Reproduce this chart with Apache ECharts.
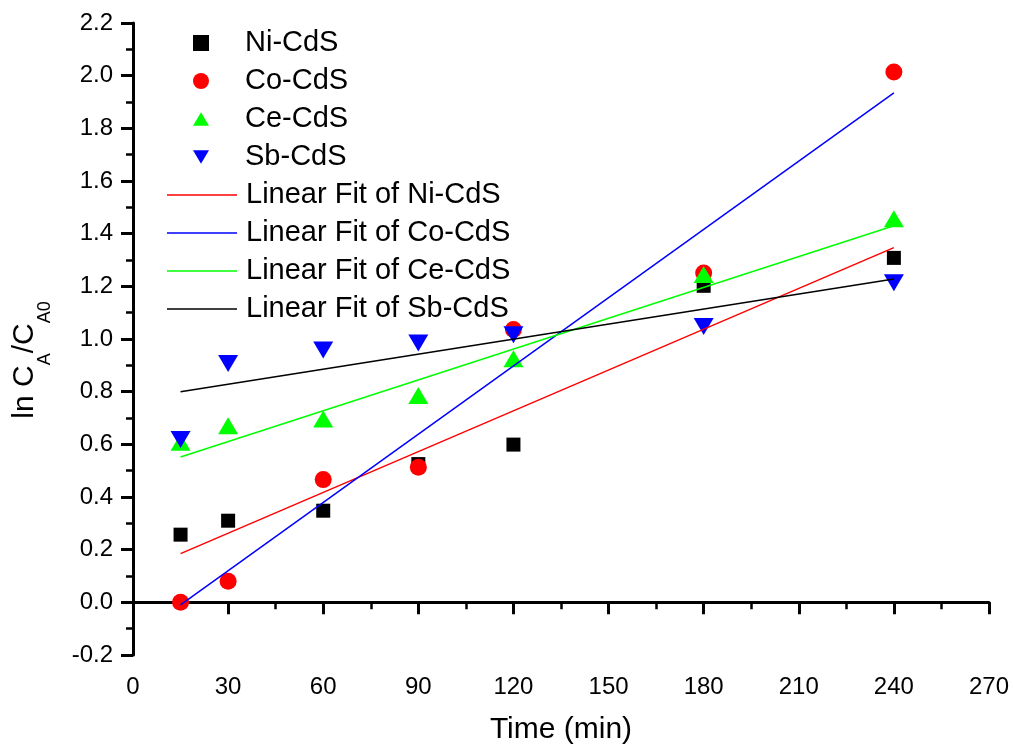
<!DOCTYPE html>
<html lang="en">
<head>
    <meta http-equiv="Content-Type" content="text/html; charset=UTF-8">
    <title>ln CA/CA0 vs Time</title>
    <script type="text/javascript" src="https://cdn.jsdelivr.net/npm/echarts@6/dist/echarts.min.js"></script>
</head>
<body style="margin:0; width:1013px; height:751px; background:#fff">

<div id="main" style="width:1013px; height:751px"></div>

<script type="text/javascript">
    // measured points (time in min, ln CA/CA0)
    var niCdS = [[15, 0.257], [30, 0.31], [60, 0.348], [90, 0.525], [120, 0.599], [180, 1.202], [240, 1.308]];
    var coCdS = [[15, 0.0], [30, 0.08], [60, 0.466], [90, 0.513], [120, 1.036], [180, 1.251], [240, 2.014]];
    var ceCdS = [[15, 0.608], [30, 0.671], [60, 0.696], [90, 0.785], [120, 0.925], [180, 1.245], [240, 1.457]];
    var sbCdS = [[15, 0.618], [30, 0.907], [60, 0.958], [90, 0.985], [120, 1.016], [180, 1.047], [240, 1.214]];

    // linear fit end points
    var fitNi = [[15, 0.185], [240, 1.347]];
    var fitCo = [[15, -0.01], [240, 1.935]];
    var fitCe = [[15, 0.552], [240, 1.43]];
    var fitSb = [[15, 0.80], [240, 1.228]];

    var font = 'Liberation Sans, Arial, sans-serif';
    var downTriangle = 'path://M0,0 L20,0 L10,17 Z';
    var lineIcon = 'path://M0,0 L70,0 L70,1.5 L0,1.5 Z';

    var myChart = echarts.init(document.getElementById('main'));

    function scatter(name, data, symbol, size, color) {
        return {
            name: name,
            type: 'scatter',
            data: data,
            symbol: symbol,
            symbolSize: size,
            itemStyle: {color: color, opacity: 1},
            z: 2
        };
    }

    function fit(name, data, color) {
        return {
            name: name,
            type: 'line',
            data: data,
            symbol: 'none',
            showSymbol: false,
            lineStyle: {color: color, width: 1.5},
            itemStyle: {color: color},
            z: 3
        };
    }

    var legendText = {fontFamily: font, fontSize: 29, color: '#000', lineHeight: 30};

    myChart.setOption({
        animation: false,
        backgroundColor: '#fff',
        grid: {left: 133, right: 24, top: 23, bottom: 96},
        legend: [{
            // markers
            orient: 'vertical',
            left: 188,
            top: 23,
            itemWidth: 16,
            itemHeight: 16,
            itemGap: 8,
            textStyle: Object.assign({padding: [0, 0, 0, 31]}, legendText),
            data: [
                {name: 'Ni-CdS', icon: 'path://M0,0 L13,0 L13,13 L0,13 Z'},
                {name: 'Co-CdS', icon: 'circle'},
                {name: 'Ce-CdS', icon: 'path://M10,0 L20,17 L0,17 Z'},
                {name: 'Sb-CdS', icon: downTriangle}
            ]
        }, {
            // fit lines
            orient: 'vertical',
            left: 162,
            top: 175,
            itemWidth: 70,
            itemHeight: 16,
            itemGap: 8,
            textStyle: Object.assign({padding: [0, 0, 0, 4]}, legendText),
            data: [
                {name: 'Linear Fit of Ni-CdS', icon: lineIcon},
                {name: 'Linear Fit of Co-CdS', icon: lineIcon},
                {name: 'Linear Fit of Ce-CdS', icon: lineIcon},
                {name: 'Linear Fit of Sb-CdS', icon: lineIcon}
            ]
        }],
        xAxis: {
            type: 'value',
            min: 0,
            max: 270,
            interval: 30,
            name: 'Time (min)',
            nameLocation: 'middle',
            nameGap: 60,
            nameTextStyle: {fontFamily: font, fontSize: 30, color: '#000'},
            axisLine: {lineStyle: {color: '#000', width: 3}},
            axisTick: {length: 12, lineStyle: {width: 3}},
            minorTick: {show: true, splitNumber: 2, length: 7, lineStyle: {color: '#000', width: 2.5}},
            axisLabel: {fontFamily: font, fontSize: 24, color: '#000', margin: 20},
            splitLine: {show: false}
        },
        yAxis: {
            type: 'value',
            min: -0.2,
            max: 2.2,
            interval: 0.2,
            name: 'ln C{s|A}/C{s|A0}',
            nameLocation: 'middle',
            nameRotate: 90,
            nameGap: 79,
            nameTextStyle: {
                fontFamily: font, fontSize: 30, color: '#000',
                padding: [0, 42, 0, 0],
                rich: {
                    s: {fontFamily: font, fontSize: 18, color: '#000', padding: [40, 0, 0, 0]}
                }
            },
            axisLine: {lineStyle: {color: '#000', width: 3}},
            axisTick: {length: 12, lineStyle: {width: 3}},
            minorTick: {show: true, splitNumber: 2, length: 7, lineStyle: {color: '#000', width: 2.5}},
            axisLabel: {
                fontFamily: font, fontSize: 24, color: '#000', margin: 20,
                formatter: function (v) { return v.toFixed(1); }
            },
            splitLine: {show: false}
        },
        series: [
            scatter('Ni-CdS', niCdS, 'rect', 14, '#000000'),
            scatter('Co-CdS', coCdS, 'circle', 17, '#ff0000'),
            scatter('Ce-CdS', ceCdS, 'triangle', [20, 17], '#00ff00'),
            scatter('Sb-CdS', sbCdS, downTriangle, [20, 17], '#0000ff'),
            fit('Linear Fit of Ni-CdS', fitNi, '#ff0000'),
            fit('Linear Fit of Co-CdS', fitCo, '#0000ff'),
            fit('Linear Fit of Ce-CdS', fitCe, '#00ff00'),
            fit('Linear Fit of Sb-CdS', fitSb, '#000000')
        ]
    });

    window.addEventListener('resize', function () {
        myChart.resize();
    });
</script>
</body>
</html>
